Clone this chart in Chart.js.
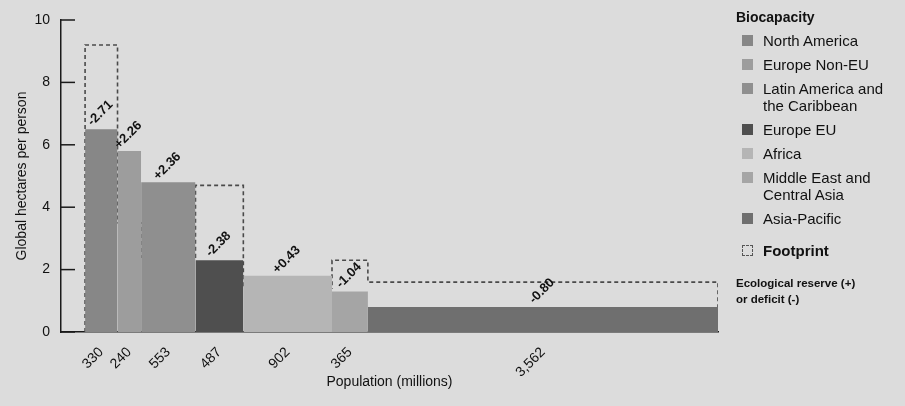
<!DOCTYPE html>
<html><head><meta charset="utf-8">
<script src="https://cdn.jsdelivr.net/npm/chart.js@4.4.1/dist/chart.umd.min.js"></script>
<style>
html,body{margin:0;padding:0;background:#dcdcdc;}
#wrap{position:relative;width:905px;height:406px;overflow:hidden;font-family:"Liberation Sans",Arial,Helvetica,sans-serif;background:#dcdcdc;}
#c{position:absolute;left:0;top:0;}
#legend{position:absolute;left:736px;top:8px;width:169px;color:#111;}
#legend .ttl{font-weight:bold;font-size:14px;line-height:18px;margin-bottom:6px;}
#legend .row{position:relative;padding-left:27px;font-size:15px;line-height:17px;margin-bottom:7px;width:142px;}
#legend .sw{position:absolute;left:6px;top:3px;width:11px;height:11px;}
#legend .fp{font-weight:bold;margin-top:15px;}
#legend .fp .sw{border:1.5px dashed #555;width:9px;height:9px;background:transparent;}
#legend .note{font-weight:bold;font-size:11.5px;line-height:16px;margin-top:16px;width:165px;}
</style></head><body>
<div id="wrap"><canvas id="c" width="905" height="406"></canvas><div id="legend"></div></div>
<script>
const regions = ["North America","Europe Non-EU","Latin America and the Caribbean","Europe EU","Africa","Middle East and Central Asia","Asia-Pacific"];
const population = [330,240,553,487,902,365,3562];
const populationLabels = ["330","240","553","487","902","365","3,562"];
const biocapacity = [6.5,5.8,4.8,2.3,1.8,1.3,0.8];
const footprint = [9.2,3.5,2.4,4.7,1.4,2.3,1.6];
const reserveLabels = ["-2.71","+2.26","+2.36","-2.38","+0.43","-1.04","-0.80"];
const yTicks = [0,2,4,6,8,10];
const regionColors = ["#878787","#9d9d9d","#8f8f8f","#4f4f4f","#b5b5b5","#a5a5a5","#6f6f6f"];

const FONT = '"Liberation Sans", Arial, Helvetica, sans-serif';

const bounds = [0];
population.forEach((p,i)=>bounds.push(bounds[i]+p));
const centers = population.map((p,i)=>bounds[i]+p/2);
const total = bounds[bounds.length-1];

const datasets = regions.map((name,i)=>({
  label: name,
  data: [{x:bounds[i],y:0},{x:bounds[i],y:biocapacity[i]},{x:bounds[i+1],y:biocapacity[i]},{x:bounds[i+1],y:0}],
  backgroundColor: regionColors[i],
  borderWidth: 0,
  pointRadius: 0,
  fill: 'origin',
  tension: 0,
  order: 1
}));
const fpData = [{x:bounds[0],y:0}];
footprint.forEach((f,i)=>{ fpData.push({x:bounds[i],y:f}); fpData.push({x:bounds[i+1],y:f}); });
fpData.push({x:total,y:0});
datasets.push({
  label:'Footprint', data: fpData, borderColor:'#4a4a4a', borderWidth:1.6, borderDash:[4,3],
  pointRadius:0, fill:false, tension:0, order: 10
});

const extras = {
  id:'extras',
  afterDatasetsDraw(chart){
    const ctx = chart.ctx, xs = chart.scales.x, ys = chart.scales.y, ca = chart.chartArea;
    ctx.save();
    ctx.strokeStyle = '#1a1a1a'; ctx.lineWidth = 1.5;
    yTicks.forEach(v=>{
      const y = ys.getPixelForValue(v);
      ctx.beginPath(); ctx.moveTo(ca.left, y); ctx.lineTo(ca.left+14, y); ctx.stroke();
    });
    ctx.fillStyle = '#111';
    ctx.font = 'bold 13px ' + FONT;
    ctx.textAlign = 'center'; ctx.textBaseline = 'middle';
    reserveLabels.forEach((t,i)=>{
      const x = xs.getPixelForValue(centers[i]) - 1;
      const y = ys.getPixelForValue(biocapacity[i]) - 16;
      ctx.save(); ctx.translate(x,y); ctx.rotate(-Math.PI/4); ctx.fillText(t,0,0); ctx.restore();
    });
    ctx.restore();
  }
};

new Chart(document.getElementById('c'), {
  type:'line',
  data:{datasets},
  options:{
    responsive:false, animation:false,
    layout:{padding:{left:0,top:20,right:187,bottom:0}},
    plugins:{legend:{display:false}, tooltip:{enabled:false}},
    scales:{
      x:{
        type:'linear', min:-245, max:total,
        grid:{display:false},
        border:{display:true,color:'#1a1a1a',width:1.5},
        afterBuildTicks(s){ s.ticks = centers.map(v=>({value:v})); },
        afterFit(s){ s.height = 74; },
        ticks:{autoSkip:false,minRotation:45,maxRotation:45,padding:4,color:'#111',
          font:{family:FONT,size:14},
          callback:(v,i)=>populationLabels[i]},
        title:{display:true,text:'Population (millions)',color:'#111',font:{family:FONT,size:14},padding:{top:2,bottom:15}}
      },
      y:{
        min:0,max:10,
        grid:{display:false},
        border:{display:true,color:'#1a1a1a',width:1.5},
        afterBuildTicks(s){ s.ticks = yTicks.map(v=>({value:v})); },
        afterFit(s){ s.width = 61; },
        ticks:{padding:3,color:'#111',font:{family:FONT,size:14}},
        title:{display:true,text:'Global hectares per person',color:'#111',font:{family:FONT,size:14},padding:{top:14,bottom:0}}
      }
    }
  },
  plugins:[extras]
});

const lg = document.getElementById('legend');
let html = '<div class="ttl">Biocapacity</div>';
regions.forEach((r,i)=>{ html += '<div class="row"><span class="sw" style="background:'+regionColors[i]+'"></span>'+r+'</div>'; });
html += '<div class="row fp"><span class="sw"></span>Footprint</div>';
html += '<div class="note">Ecological reserve (+)<br>or deficit (-)</div>';
lg.innerHTML = html;
</script>
</body></html>
